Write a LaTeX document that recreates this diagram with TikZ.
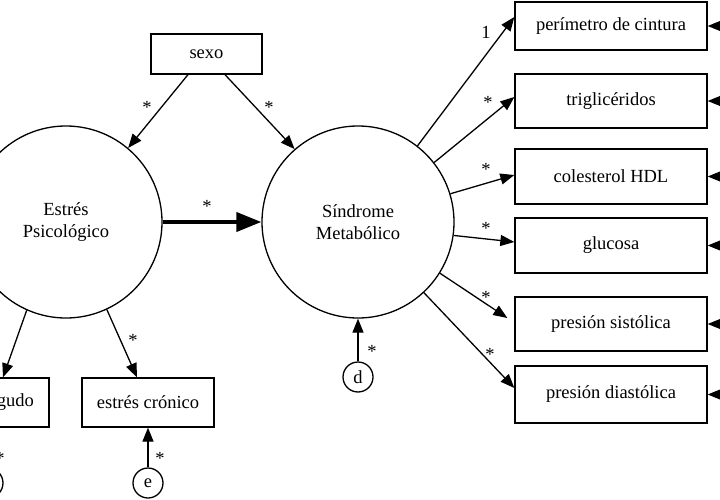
\documentclass[tikz,border=0pt]{standalone}
\usepackage{fontspec}
\setmainfont{Liberation Serif}
\usetikzlibrary{arrows.meta}
\begin{document}
\begin{tikzpicture}[x=1pt,y=-1pt,
  every node/.style={font=\fontsize{18.5}{22}\selectfont},
  box/.style={draw, line width=1.3pt, inner sep=0pt},
  circ/.style={draw, circle, line width=1.3pt, minimum size=192pt, inner sep=0pt, align=center},
  err/.style={draw, circle, line width=1.3pt, minimum size=30pt, inner sep=0pt},
  arr/.style={line width=1.3pt, -{Triangle[length=14pt,width=11pt]}},
  thickarr/.style={line width=4pt, -{Triangle[length=25pt,width=19pt]}},
  lbl/.style={inner sep=0pt}
]
\useasboundingbox (0,0) rectangle (720,500);
\clip (0,0) rectangle (720,500);
\fill[white] (0,0) rectangle (720,500);

% latent variables
\node[circ] (ep) at (66,222) {Estrés\\Psicológico};
\node[circ] (sm) at (358,222) {Síndrome\\Metabólico};

% observed
\node[box, minimum width=111pt, minimum height=40pt] (sexo) at (206.5,54) {sexo};
\node[box, minimum width=132pt, minimum height=49pt] (cro) at (148,402.5) {estrés crónico};
\node[box, minimum width=122pt, minimum height=49pt] (ag) at (-12,402.5) {estrés agudo};

\node[box, minimum width=192pt, minimum height=48pt] (per) at (611,26) {perímetro de cintura};
\node[box, minimum width=192pt, minimum height=54pt] (tri) at (611,101) {triglicéridos};
\node[box, minimum width=192pt, minimum height=55pt] (col) at (611,176.5) {colesterol HDL};
\node[box, minimum width=192pt, minimum height=55pt] (glu) at (611,245.5) {glucosa};
\node[box, minimum width=192pt, minimum height=54pt] (sis) at (611,324) {presión sistólica};
\node[box, minimum width=192pt, minimum height=57pt] (dia) at (611,394.5) {presión diastólica};

% errors
\node[err] (e) at (148,483) {e};
\node[err] (d) at (358,377) {d};
\node[err] (ea) at (-12,483) {};

% sexo paths
\draw[arr] ([xshift=-18.5pt]sexo.south) -- (ep.50);
\draw[arr] ([xshift=18.5pt]sexo.south) -- (sm.131.7);
\node[lbl] at (147,107) {*};
\node[lbl] at (269,107) {*};

% structural path
\draw[thickarr] (ep.east) -- (sm.west);
\node[lbl] at (207,206) {*};

% EP indicators
\draw[arr] (ep.246.3) -- ([xshift=15pt]ag.north);
\draw[arr] (ep.-65.3) -- ([xshift=-11pt]cro.north);
\node[lbl] at (133,340) {*};

% SM indicators
\draw[arr] (sm.52.9) -- ([yshift=9pt]per.west);
\node[lbl] at (486,32) {1};
\draw[arr] (sm.38.4) -- ([yshift=4pt]tri.west);
\node[lbl] at (488,102) {*};
\draw[arr] (sm.17.1) -- ([yshift=1.5pt]col.west);
\node[lbl] at (486,169) {*};
\draw[arr] (sm.-8.2) -- ([yshift=3.5pt]glu.west);
\node[lbl] at (486,228) {*};
\draw[arr] (sm.-32.4) -- ([xshift=-7pt,yshift=6pt]sis.west);
\node[lbl] at (486,297) {*};
\draw[arr] (sm.-47) -- ([yshift=6.5pt]dia.west);
\node[lbl] at (490,354) {*};

% error paths
\draw[arr] (e.north) -- (e.north |- cro.south);
\node[lbl] at (160,458) {*};
\draw[arr] (d.north) -- (sm.south);
\node[lbl] at (372,351) {*};
\draw[arr] (ea.north) -- (ea.north |- ag.south);
\node[lbl] at (0,458) {*};

% incoming error arrows on right
\coordinate (rper) at (760,26);
\coordinate (rtri) at (760,101);
\coordinate (rcol) at (760,176.5);
\coordinate (rglu) at (760,245.5);
\coordinate (rsis) at (760,324);
\coordinate (rdia) at (760,394.5);
\draw[arr] (rper) -- (per.east);
\draw[arr] (rtri) -- (tri.east);
\draw[arr] (rcol) -- (col.east);
\draw[arr] (rglu) -- (glu.east);
\draw[arr] (rsis) -- (sis.east);
\draw[arr] (rdia) -- (dia.east);
\end{tikzpicture}
\end{document}
